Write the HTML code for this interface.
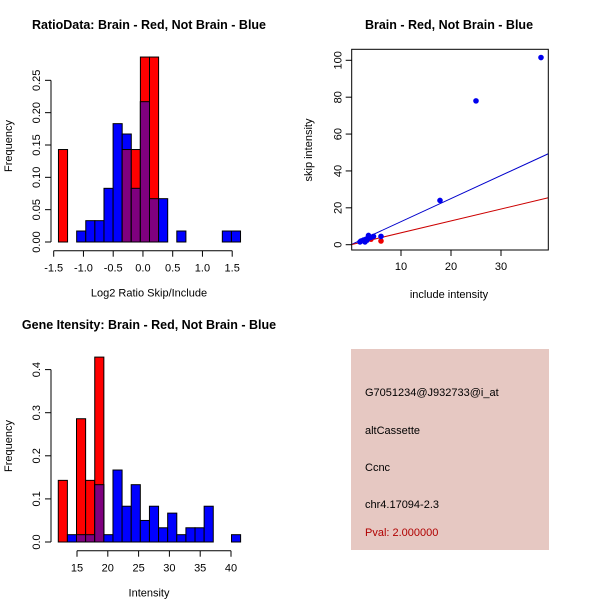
<!DOCTYPE html>
<html><head><meta charset="utf-8"><style>
body{margin:0;background:#fff}
svg text{font-family:"Liberation Sans",sans-serif}
</style></head><body>
<svg id="c" width="600" height="600" xmlns="http://www.w3.org/2000/svg">
<rect width="600" height="600" fill="#fff"/>
<g id="p1"></g>
<g id="p2"></g>
<g id="p3"></g>
<g>
<rect x="351" y="349" width="198" height="201" fill="#e6c8c2"/>
<text x="365" y="396" font-size="11">G7051234@J932733@i_at</text>
<text x="365" y="434" font-size="11">altCassette</text>
<text x="365" y="471" font-size="11">Ccnc</text>
<text x="365" y="508" font-size="11">chr4.17094-2.3</text>
<text x="365" y="536" font-size="11" fill="#b00000">Pval: 2.000000</text>
</g>
</svg>
<script>
// Ratio histogram data
const ratioBinStart = -1.42, ratioBinWidth = 0.153;
const ratioBlue = [0,0,0.017,0.033,0.033,0.083,0.183,0.167,0.083,0.217,0.067,0.067,0,0.017,0,0,0,0,0.017,0.017];
const ratioRed  = [0.143,0,0,0,0,0,0,0.143,0.143,0.286,0.286,0,0,0,0,0,0,0,0,0];
const ratioXTicks = [-1.5,-1.0,-0.5,0.0,0.5,1.0,1.5];
const ratioYTicks = [0,0.05,0.10,0.15,0.20,0.25];
// Intensity histogram data
const intBinStart = 11.96, intBinWidth = 1.48;
const intBlue = [0,0.017,0.017,0.017,0.133,0.017,0.167,0.083,0.133,0.05,0.083,0.033,0.067,0.017,0.033,0.033,0.083,0,0,0.017];
const intRed  = [0.143,0,0.286,0.143,0.429,0,0,0,0,0,0,0,0,0,0,0,0,0,0,0];
const intXTicks = [15,20,25,30,35,40];
const intYTicks = [0,0.1,0.2,0.3,0.4];
// Scatter data
const blueX = [38,25,17.8,2,2.5,3,3.5,3.5,4,4.5,6,2.8,1.8,3.2];
const blueY = [101.5,78,24,2,2.5,3,5,3.5,4,4.5,4.5,1.5,1.5,2.5];
const redX = [6,3,4];
const redY = [2,2.5,3];
const blueSlope = 1.25, redSlope = 0.645;
const scXTicks = [10,20,30];
const scYTicks = [0,20,40,60,80,100];

const NS="http://www.w3.org/2000/svg";
function mk(parent,tag,attrs,txt){const e=document.createElementNS(NS,tag);for(const k in attrs)e.setAttribute(k,attrs[k]);if(txt!==undefined)e.textContent=txt;parent.appendChild(e);return e;}

function hist(g,o){
  const X=v=>o.x0+(v-o.xv0)*o.xs, Y=v=>o.y0-v*o.ys;
  const n=o.blue.length;
  for(let i=0;i<n;i++){
    const l=X(o.bs+i*o.bw), w=o.bw*o.xs;
    const b=o.blue[i], r=o.red[i];
    if(b>0){const e=mk(g,'rect',{x:l,y:Y(b),width:w,height:Y(0)-Y(b),fill:'#0000ff',stroke:'#000','stroke-width':1});
      
      }
    if(r>0){const e=mk(g,'rect',{x:l,y:Y(r),width:w,height:Y(0)-Y(r),fill:'#ff0000',stroke:'#000','stroke-width':1});
      
      }
    const m=Math.min(b,r);
    if(m>0){const e=mk(g,'rect',{x:l,y:Y(m),width:w,height:Y(0)-Y(m),fill:'#7f007f',stroke:'#000','stroke-width':1});
      
      }
  }
  const yt=o.yTicks;
  mk(g,'line',{x1:51,x2:51,y1:Y(yt[0]),y2:Y(yt[yt.length-1]),stroke:'#000'});
  yt.forEach((t,i)=>{mk(g,'line',{x1:45,x2:51,y1:Y(t),y2:Y(t),stroke:'#000'});
    const e=mk(g,'text',{x:40,y:Y(t),'font-size':11,'text-anchor':'middle',transform:`rotate(-90 40 ${Y(t)})`},o.yLab[i]);
    
    });
  const xt=o.xTicks, ay=o.axisY;
  mk(g,'line',{x1:X(xt[0]),x2:X(xt[xt.length-1]),y1:ay,y2:ay,stroke:'#000'});
  xt.forEach((t,i)=>{mk(g,'line',{x1:X(t),x2:X(t),y1:ay,y2:ay+6,stroke:'#000'});
    const e=mk(g,'text',{x:X(t),y:ay+21,'font-size':11,'text-anchor':'middle'},o.xLab[i]);
    
    });
  mk(g,'text',{x:12,y:o.yMid,'font-size':11,'text-anchor':'middle',transform:`rotate(-90 12 ${o.yMid})`},'Frequency');
  mk(g,'text',{x:o.xMid,y:ay+46,'font-size':11,'text-anchor':'middle'},o.xTitle);
  mk(g,'text',{x:o.tx,y:o.ty,'font-size':12.5,'font-weight':'bold','text-anchor':'middle'},o.title);
}
hist(document.getElementById('p1'),{x0:53.7,xv0:-1.5,xs:59.5,y0:242,ys:646.7,bs:ratioBinStart,bw:ratioBinWidth,
  blue:ratioBlue,red:ratioRed,xTicks:ratioXTicks,yTicks:ratioYTicks,
  xLab:ratioXTicks.map(v=>v.toFixed(1)),yLab:ratioYTicks.map(v=>v.toFixed(2)),axisY:250.7,
  yMid:146,xMid:149,xTitle:'Log2 Ratio Skip/Include',tx:149,ty:29,title:'RatioData: Brain - Red, Not Brain - Blue'});
hist(document.getElementById('p3'),{x0:77,xv0:15,xs:6.16,y0:542,ys:431,bs:intBinStart,bw:intBinWidth,
  blue:intBlue,red:intRed,xTicks:intXTicks,yTicks:intYTicks,
  xLab:intXTicks.map(String),yLab:intYTicks.map(v=>v.toFixed(1)),axisY:550.7,
  yMid:446,xMid:149,xTitle:'Intensity',tx:149,ty:329,title:'Gene Itensity: Brain - Red, Not Brain - Blue'});

(function(){
  const g=document.getElementById('p2');
  const X=v=>351+v*5, Y=v=>244.7-v*1.844;
  const L=351.7,R=548.3,T=49.3,B=250;
  mk(g,'defs',{}).innerHTML='<clipPath id="cp"><rect x="351.7" y="49.3" width="196.6" height="200.7"/></clipPath>';
  const cl=mk(g,'g',{'clip-path':'url(#cp)'});
  const xe=(R-351)/5;
  let e=mk(cl,'line',{x1:X(0),y1:Y(0),x2:X(xe),y2:Y(blueSlope*xe),stroke:'#0000cc'});
  
  
  e=mk(cl,'line',{x1:X(0),y1:Y(0),x2:X(xe),y2:Y(redSlope*xe),stroke:'#cc0000'});
  
  
  redX.forEach((x,i)=>{const c=mk(cl,'circle',{cx:X(x),cy:Y(redY[i]),r:2.8,fill:'#ee0000'});
    
    });
  blueX.forEach((x,i)=>{const c=mk(cl,'circle',{cx:X(x),cy:Y(blueY[i]),r:2.8,fill:'#0000ee'});
    
    });
  mk(g,'rect',{x:L,y:T,width:R-L,height:B-T,fill:'none',stroke:'#000'});
  scXTicks.forEach(t=>{mk(g,'line',{x1:X(t),x2:X(t),y1:B,y2:B+6,stroke:'#000'});
    mk(g,'text',{x:X(t),y:B+20,'font-size':11,'text-anchor':'middle'},String(t));});
  scYTicks.forEach(t=>{mk(g,'line',{x1:L-6,x2:L,y1:Y(t),y2:Y(t),stroke:'#000'});
    mk(g,'text',{x:L-10,y:Y(t),'font-size':11,'text-anchor':'middle',transform:`rotate(-90 ${L-10} ${Y(t)})`},String(t));});
  mk(g,'text',{x:449,y:298,'font-size':11,'text-anchor':'middle'},'include intensity');
  mk(g,'text',{x:312,y:150,'font-size':11,'text-anchor':'middle',transform:'rotate(-90 312 150)'},'skip intensity');
  mk(g,'text',{x:449,y:29,'font-size':12.5,'font-weight':'bold','text-anchor':'middle'},'Brain - Red, Not Brain - Blue');
})();
</script>
</body></html>
